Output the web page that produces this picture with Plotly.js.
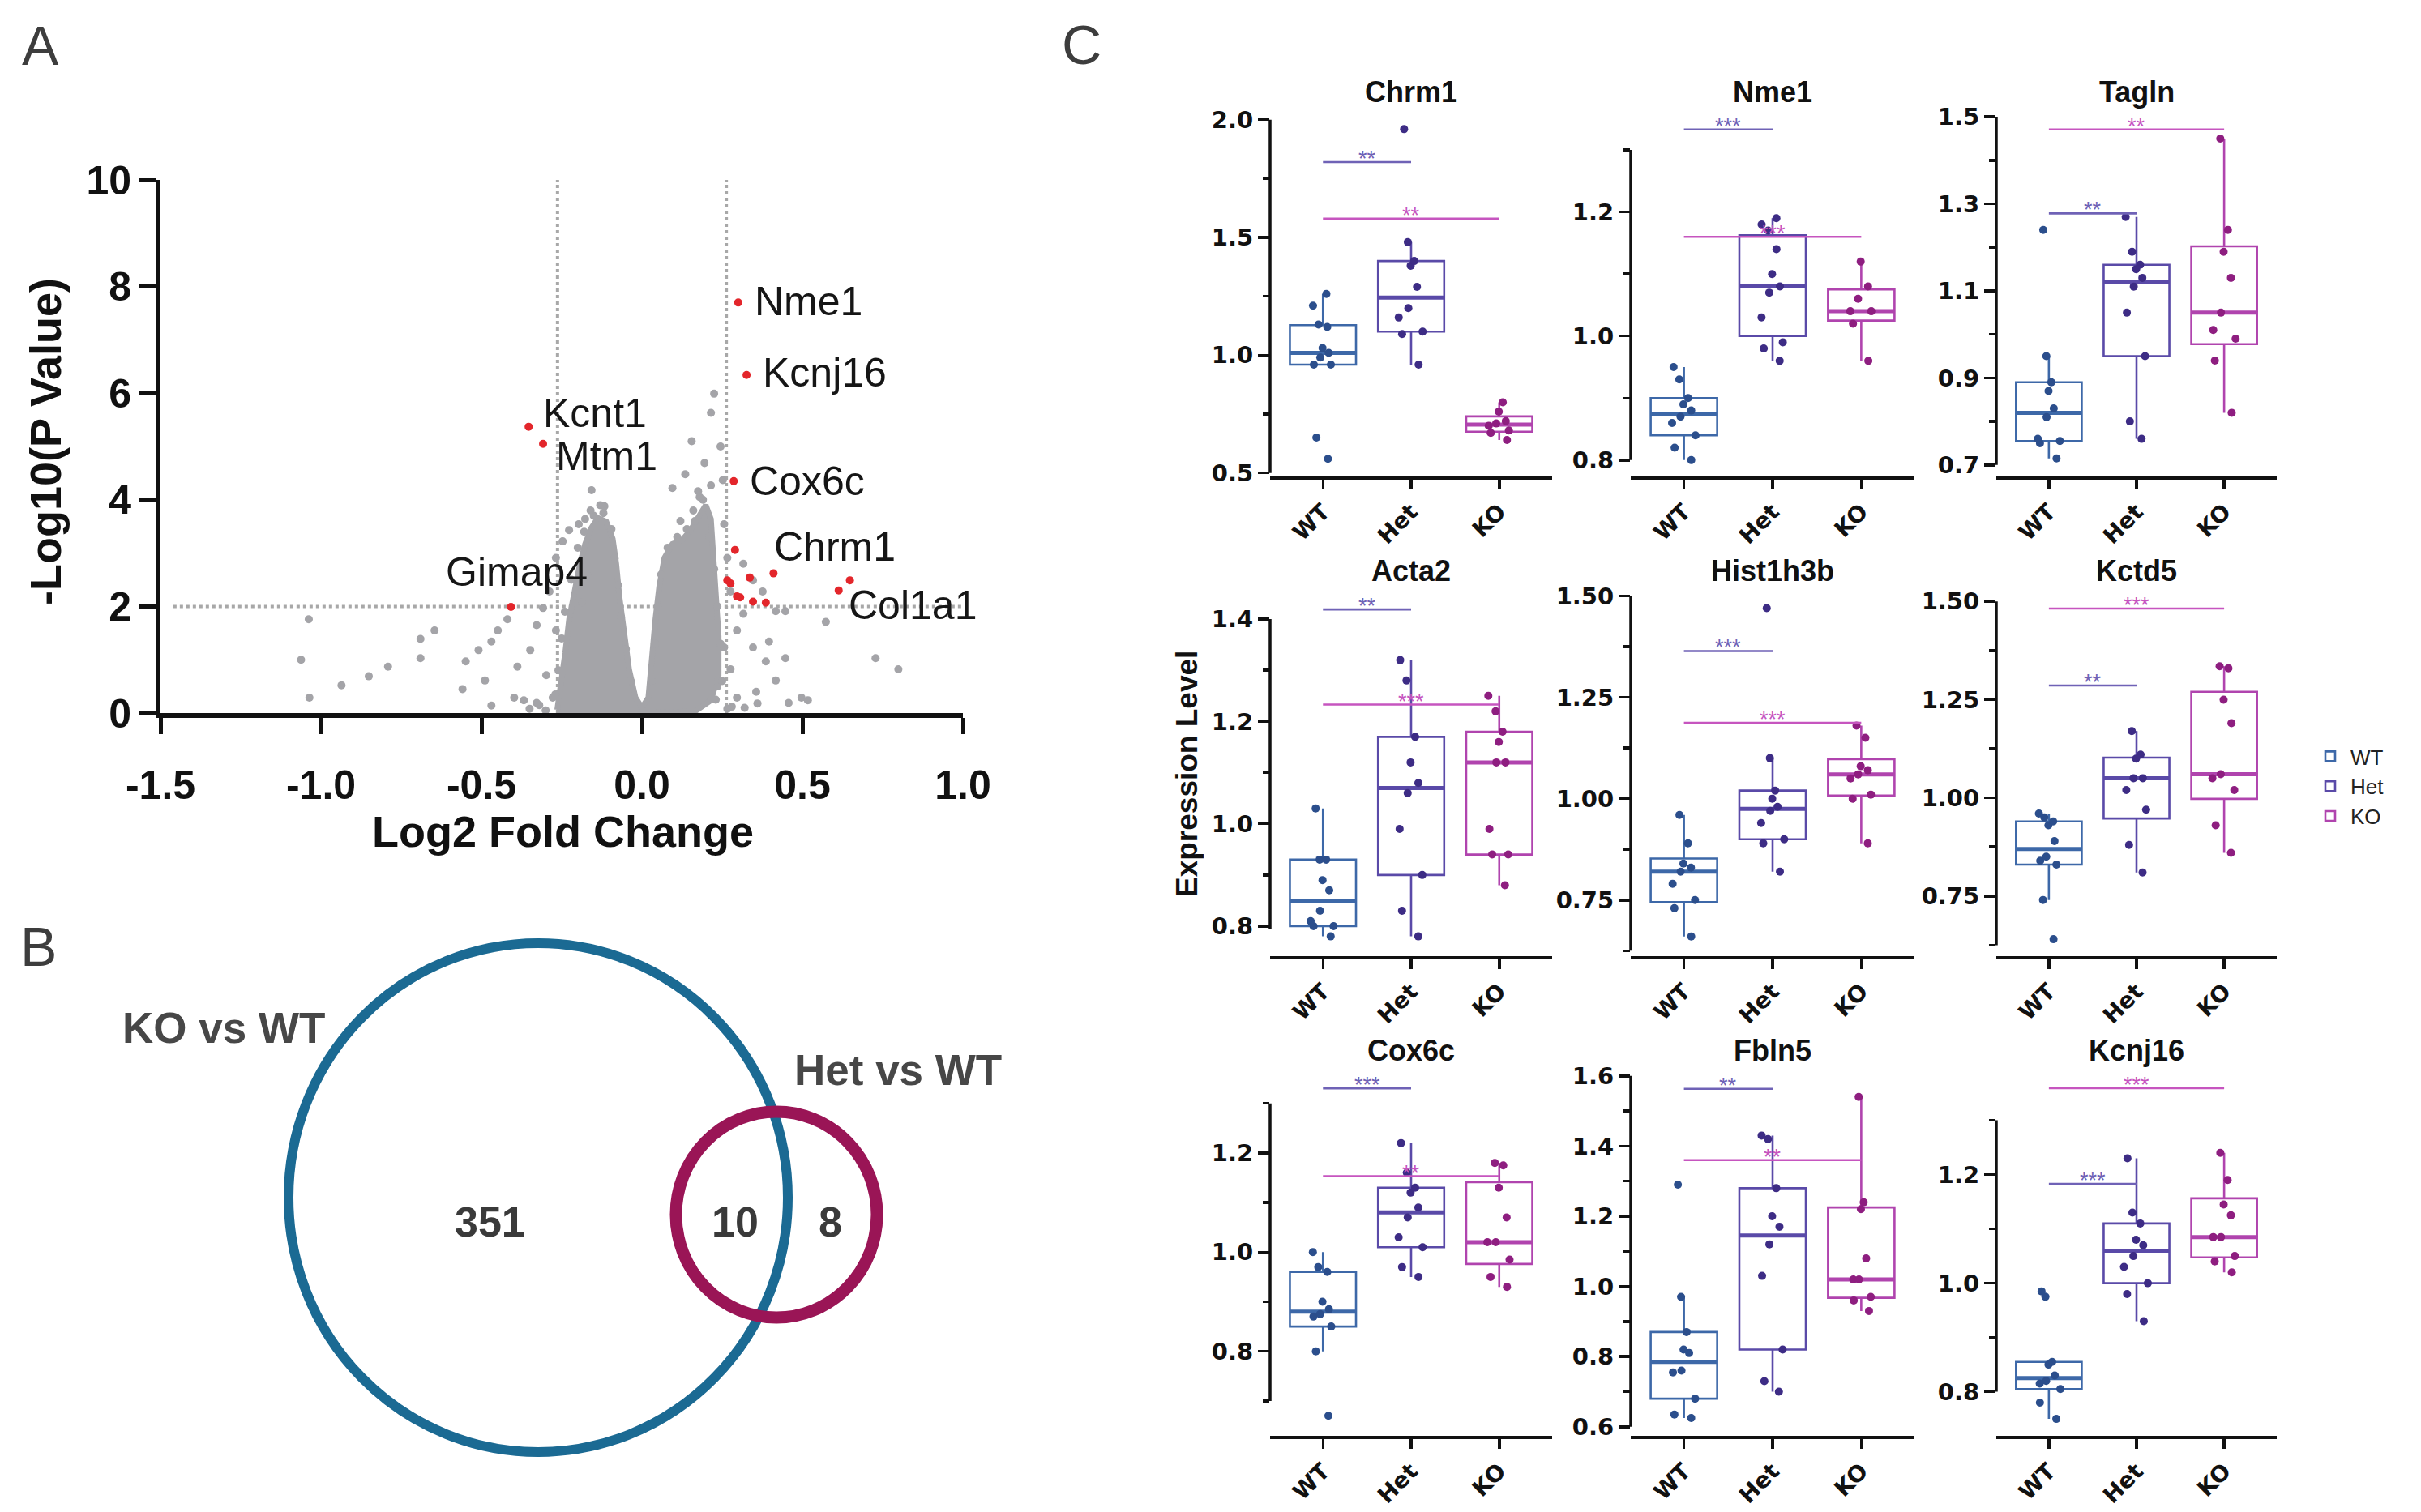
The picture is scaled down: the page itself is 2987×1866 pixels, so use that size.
<!DOCTYPE html>
<html>
<head>
<meta charset="utf-8">
<script src="https://cdn.plot.ly/plotly-3.0.1.min.js"></script>
<style>html,body{margin:0;padding:0;background:#fff;}#chart{width:2987px;height:1866px;}</style>
</head>
<body>
<div id="chart"></div>
<script>
// ---------------- DATA ----------------
// Panel A: volcano plot (log2 fold change vs -log10 p)
// outline of the saturated (densely overplotted) core of the cloud
const coreOutlineX = [-0.264, -0.252, -0.239, -0.227, -0.211, -0.193, -0.177, -0.157, -0.137, -0.111, -0.091, -0.080, -0.070, -0.056, -0.040, -0.020, 0.0,
  0.020, 0.030, 0.042, 0.054, 0.070, 0.095, 0.125, 0.151, 0.175, 0.199, 0.215, 0.223, 0.231, 0.239, 0.239, 0.215, 0.165, 0.0, -0.264];
const coreOutlineY = [0.06, 0.50, 1.13, 1.76, 2.28, 2.80, 3.17, 3.48, 3.66, 3.59, 3.27, 2.80, 2.18, 1.55, 0.82, 0.29, 0.10,
  0.29, 1.03, 1.76, 2.38, 2.91, 3.17, 3.24, 3.43, 3.69, 3.90, 3.64, 3.01, 2.28, 1.44, 0.71, 0.24, 0.03, 0.0, 0.0];
const grayX = [-1.062,-1.036,-1.038,-0.936,-0.851,-0.791,-0.690,-0.690,-0.646,-0.559,-0.549,-0.509,-0.489,-0.469,-0.449,-0.419,-0.398,-0.388,-0.348,-0.328,-0.308,-0.288,-0.298,-0.268,-0.247,-0.227,-0.197,-0.177,-0.157,-0.117,-0.171,-0.187,-0.268,-0.278,-0.328,-0.368,-0.469,
  0.095,0.135,0.155,0.195,0.215,0.225,0.245,0.252,0.215,0.175,0.256,0.266,0.276,0.296,0.316,0.346,0.386,0.396,0.417,0.447,0.457,0.497,0.517,0.417,0.376,0.346,0.316,0.276,0.296,0.356,0.447,0.573,0.728,0.799,0.256,0.235,0.266,
  -0.27,-0.26,-0.25,-0.24,-0.22,-0.20,-0.18,-0.15,-0.12,-0.095,-0.085,-0.075,-0.065,-0.05,-0.035,
  0.03,0.04,0.05,0.06,0.08,0.11,0.14,0.165,0.19,0.21,0.225,0.235,0.245,0.25,0.23,
  -0.35,-0.32,0.32,0.36,-0.30,0.28,0.12,0.16,0.18,-0.13,-0.16];
const grayY = [1.00,0.29,1.76,0.52,0.69,0.87,1.39,1.03,1.55,0.45,0.97,1.18,0.61,1.34,1.55,1.76,0.29,0.87,1.18,1.65,1.97,2.28,0.71,2.91,3.22,3.43,3.54,3.64,4.18,3.88,2.59,2.07,1.55,0.29,0.19,0.24,0.14,
  4.22,4.48,5.10,4.69,5.63,5.99,5.00,4.37,4.27,4.16,3.54,2.91,2.28,1.55,1.86,1.23,0.97,1.34,0.61,1.03,0.19,0.29,0.24,1.91,2.28,2.49,2.80,0.82,0.29,0.40,1.91,1.71,1.03,0.82,1.23,0.50,0.08,
  0.35,0.80,1.40,1.90,2.50,3.10,3.40,3.70,3.75,3.45,2.90,2.40,1.80,1.20,0.60,
  0.60,1.30,2.00,2.60,3.10,3.30,3.45,3.60,4.00,3.30,2.70,2.00,1.30,0.60,0.25,
  0.08,0.15,0.10,0.18,0.05,0.12,3.60,3.80,4.05,3.90,3.80];
const sigX = [0.300, 0.326, -0.353, -0.308, 0.286, 0.290, 0.410, 0.266, 0.276, 0.336, 0.306, 0.346, 0.386, 0.648, 0.613, -0.408, 0.296];
const sigY = [7.70, 6.34, 5.37, 5.05, 4.35, 3.06, 2.62, 2.49, 2.43, 2.54, 2.17, 2.09, 2.07, 2.49, 2.30, 1.99, 2.19];
const geneLabels = ['Nme1','Kcnj16','Kcnt1','Mtm1','Cox6c','Chrm1','Gimap4','Col1a1'];
const fcThreshold = 0.263;
const pThreshold = 2;
const volcanoXTicks = [-1.5, -1.0, -0.5, 0.0, 0.5, 1.0];
const volcanoXTickText = ['-1.5','-1.0','-0.5','0.0','0.5','1.0'];
const volcanoYTicks = [0, 2, 4, 6, 8, 10];

// Panel B: Venn counts
const vennSets = ['KO vs WT', 'Het vs WT'];
const vennCounts = [351, 10, 8]; // KO only, both, Het only

// Panel C: expression levels
const groups = ['WT', 'Het', 'KO'];
const genes = ['Chrm1','Nme1','Tagln','Acta2','Hist1h3b','Kctd5','Cox6c','Fbln5','Kcnj16'];
const Chrm1_WT = [1.26, 1.21, 1.13, 1.12, 1.03, 1.01, 0.99, 0.96, 0.96, 0.65, 0.56];
const Chrm1_Het = [1.96, 1.48, 1.40, 1.38, 1.29, 1.20, 1.16, 1.10, 1.09, 0.96];
const Chrm1_KO = [0.80, 0.76, 0.72, 0.71, 0.70, 0.68, 0.67, 0.64];
const Nme1_WT = [0.95, 0.93, 0.90, 0.89, 0.88, 0.87, 0.86, 0.84, 0.82, 0.80];
const Nme1_Het = [1.19, 1.18, 1.17, 1.14, 1.10, 1.08, 1.07, 1.03, 0.99, 0.98, 0.96];
const Nme1_KO = [1.12, 1.08, 1.06, 1.04, 1.04, 1.02, 0.96];
const Tagln_WT = [1.24, 0.95, 0.89, 0.87, 0.83, 0.81, 0.76, 0.755, 0.75, 0.715];
const Tagln_Het = [1.27, 1.19, 1.16, 1.15, 1.13, 1.11, 1.05, 0.95, 0.80, 0.76];
const Tagln_KO = [1.45, 1.24, 1.19, 1.13, 1.05, 1.01, 0.99, 0.94, 0.82];
const Acta2_WT = [1.03, 0.93, 0.93, 0.89, 0.87, 0.83, 0.81, 0.80, 0.80, 0.78];
const Acta2_Het = [1.32, 1.28, 1.17, 1.12, 1.08, 1.06, 0.99, 0.90, 0.83, 0.78];
const Acta2_KO = [1.25, 1.22, 1.18, 1.16, 1.12, 1.12, 0.99, 0.94, 0.94, 0.88];
const Hist1h3b_WT = [0.96, 0.89, 0.84, 0.83, 0.82, 0.79, 0.75, 0.73, 0.66];
const Hist1h3b_Het = [1.47, 1.10, 1.02, 1.00, 0.98, 0.97, 0.94, 0.90, 0.89, 0.82];
const Hist1h3b_KO = [1.18, 1.15, 1.08, 1.07, 1.06, 1.05, 1.01, 1.00, 0.89];
const Kctd5_WT = [0.96, 0.95, 0.94, 0.93, 0.89, 0.85, 0.84, 0.83, 0.74, 0.64];
const Kctd5_Het = [1.17, 1.11, 1.10, 1.05, 1.05, 1.02, 0.97, 0.88, 0.81];
const Kctd5_KO = [1.335, 1.33, 1.25, 1.19, 1.06, 1.05, 1.02, 0.93, 0.86];
const Cox6c_WT = [1.00, 0.97, 0.96, 0.90, 0.885, 0.875, 0.87, 0.85, 0.80, 0.67];
const Cox6c_Het = [1.22, 1.16, 1.13, 1.12, 1.09, 1.07, 1.03, 1.01, 0.97, 0.95];
const Cox6c_KO = [1.18, 1.175, 1.13, 1.07, 1.02, 1.02, 0.985, 0.95, 0.93];
const Fbln5_WT = [1.29, 0.97, 0.87, 0.82, 0.81, 0.76, 0.755, 0.68, 0.635, 0.625];
const Fbln5_Het = [1.43, 1.42, 1.28, 1.20, 1.17, 1.12, 1.03, 0.82, 0.73, 0.70];
const Fbln5_KO = [1.54, 1.24, 1.22, 1.08, 1.02, 1.02, 0.97, 0.96, 0.93];
const Kcnj16_WT = [0.985, 0.975, 0.855, 0.85, 0.83, 0.82, 0.815, 0.805, 0.78, 0.75];
const Kcnj16_Het = [1.23, 1.13, 1.11, 1.08, 1.07, 1.05, 1.03, 1.00, 0.98, 0.93];
const Kcnj16_KO = [1.24, 1.19, 1.145, 1.125, 1.085, 1.085, 1.05, 1.04, 1.02];
// significance bars (WT vs Het, WT vs KO)
const sigWTHetY = [1.82, 1.333, 1.278, 1.419, 1.364, 1.286, 1.33, 1.563, 1.183];
const sigWTHetLabel = ['**','***','**','**','***','**','***','**','***'];
const sigWTKOY = [1.58, 1.16, 1.471, 1.233, 1.187, 1.482, 1.153, 1.36, 1.359];
const sigWTKOLabel = ['**','***','**','***','***','***','**','**','***'];
// y tick labels per gene
const majorTicks = [[0.5,1.0,1.5,2.0],[0.8,1.0,1.2],[0.7,0.9,1.1,1.3,1.5],[0.8,1.0,1.2,1.4],[0.75,1.00,1.25,1.50],[0.75,1.00,1.25,1.50],[0.8,1.0,1.2],[0.6,0.8,1.0,1.2,1.4,1.6],[0.8,1.0,1.2]];
const majorTickText = [['0.5','1.0','1.5','2.0'],['0.8','1.0','1.2'],['0.7','0.9','1.1','1.3','1.5'],['0.8','1.0','1.2','1.4'],['0.75','1.00','1.25','1.50'],['0.75','1.00','1.25','1.50'],['0.8','1.0','1.2'],['0.6','0.8','1.0','1.2','1.4','1.6'],['0.8','1.0','1.2']];
const minorTicks = [[0.75,1.25,1.75],[0.9,1.1,1.3],[0.8,1.0,1.2,1.4],[0.9,1.1,1.3],[0.625,0.875,1.125,1.375],[0.625,0.875,1.125,1.375],[0.7,0.9,1.1,1.3],[0.7,0.9,1.1,1.3,1.5],[0.9,1.1,1.3]];

// ---------------- LAYOUT CONSTANTS ----------------
const W = 2987, H = 1866;
const fx = p => p / W;
const fy = p => 1 - p / H;
const yRanges = [[0.485,2.061],[0.7737,1.3719],[0.6736,1.5264],[0.7414,1.4619],[0.6117,1.5208],[0.5969,1.5357],[0.6296,1.3681],[0.5741,1.618],[0.7188,1.3934]];
const axisExtent = [[0.5,2.0],[0.8,1.3],[0.7,1.5],[0.795,1.4],[0.625,1.5],[0.625,1.5],[0.7,1.3],[0.6,1.6],[0.8,1.3]];
const colPx = [[1567,1915],[2012,2362],[2463,2809]];
const rowPx = [[130,588],[725,1180],[1320,1772]];
const titlePx = [113, 704, 1296];
const boxLine = ['#3d68a8', '#5a4aa8', '#b044ae'];
const boxMarker = ['#2b4e8c', '#3d2c85', '#8e1e80'];
const sigColor = ['#6f62b6', '#c655bf'];
const FONT = 'Liberation Sans, Arial, sans-serif';
const WIDEFONT = 'DejaVu Sans, Verdana, sans-serif';
const INK = '#111111';
const BOXW = 0.75;

const expr = {
  Chrm1: [Chrm1_WT, Chrm1_Het, Chrm1_KO], Nme1: [Nme1_WT, Nme1_Het, Nme1_KO], Tagln: [Tagln_WT, Tagln_Het, Tagln_KO],
  Acta2: [Acta2_WT, Acta2_Het, Acta2_KO], Hist1h3b: [Hist1h3b_WT, Hist1h3b_Het, Hist1h3b_KO], Kctd5: [Kctd5_WT, Kctd5_Het, Kctd5_KO],
  Cox6c: [Cox6c_WT, Cox6c_Het, Cox6c_KO], Fbln5: [Fbln5_WT, Fbln5_Het, Fbln5_KO], Kcnj16: [Kcnj16_WT, Kcnj16_Het, Kcnj16_KO]
};
function median(a) {
  const s = a.slice().sort((p, q) => p - q), m = Math.floor(s.length / 2);
  return s.length % 2 ? s[m] : (s[m - 1] + s[m]) / 2;
}

const traces = [];
const shapes = [];
const annotations = [];
const layout = {
  width: W, height: H,
  margin: {l: 0, r: 0, t: 0, b: 0},
  paper_bgcolor: '#ffffff', plot_bgcolor: 'rgba(0,0,0,0)',
  showlegend: true,
  hovermode: false,
  font: {family: FONT, color: INK},
  legend: {x: fx(2850), y: fy(910), xanchor: 'left', yanchor: 'top', bgcolor: 'rgba(0,0,0,0)',
           font: {family: FONT, size: 26, color: '#222'}, tracegroupgap: 0, itemwidth: 40}
};

// ---------------- PANEL A ----------------
const gray = '#a4a4a8';
traces.push({type: 'scatter', mode: 'lines', x: [-fcThreshold, -fcThreshold], y: [0, 10], xaxis: 'x', yaxis: 'y',
  line: {color: '#a8a8a8', width: 4, dash: 'dot'}, showlegend: false, hoverinfo: 'skip'});
traces.push({type: 'scatter', mode: 'lines', x: [fcThreshold, fcThreshold], y: [0, 10], xaxis: 'x', yaxis: 'y',
  line: {color: '#a8a8a8', width: 4, dash: 'dot'}, showlegend: false, hoverinfo: 'skip'});
traces.push({type: 'scatter', mode: 'lines', x: [-1.46, 1.0], y: [pThreshold, pThreshold], xaxis: 'x', yaxis: 'y',
  line: {color: '#a8a8a8', width: 4, dash: 'dot'}, showlegend: false, hoverinfo: 'skip'});
traces.push({type: 'scatter', mode: 'lines', x: coreOutlineX, y: coreOutlineY, fill: 'toself', fillcolor: gray,
  line: {color: gray, width: 7}, xaxis: 'x', yaxis: 'y', showlegend: false, hoverinfo: 'skip', cliponaxis: false});
traces.push({type: 'scatter', mode: 'markers', x: grayX, y: grayY, xaxis: 'x', yaxis: 'y',
  marker: {color: gray, size: 10}, showlegend: false, cliponaxis: false});
traces.push({type: 'scatter', mode: 'markers', x: sigX, y: sigY, xaxis: 'x', yaxis: 'y',
  marker: {color: '#e3262b', size: 10}, showlegend: false, cliponaxis: false});

layout.xaxis = {domain: [fx(198), fx(1188)], range: [-1.5, 1.0], anchor: 'y',
  tickmode: 'array', tickvals: volcanoXTicks, ticktext: volcanoXTickText,
  ticks: 'outside', ticklen: 20, tickwidth: 5, tickcolor: INK, showline: true, linewidth: 6, linecolor: INK,
  showgrid: false, zeroline: false, ticklabelstandoff: 20,
  tickfont: {family: FONT, size: 50, color: INK, weight: 'bold'}};
layout.yaxis = {domain: [fy(880), fy(222)], range: [0, 10], anchor: 'x',
  tickmode: 'array', tickvals: volcanoYTicks,
  ticks: 'outside', ticklen: 20, tickwidth: 5, tickcolor: INK, showline: true, linewidth: 6, linecolor: INK,
  showgrid: false, zeroline: false,
  tickfont: {family: FONT, size: 50, color: INK, weight: 'bold'}};

// gene labels (placed beside their points)
const labelX = [0.346, 0.371, -0.313, -0.273, 0.331, 0.406, -0.615, 0.638];
const labelY = [7.72, 6.39, 5.63, 4.82, 4.35, 3.12, 2.64, 2.02];
geneLabels.forEach((g, i) => annotations.push({xref: 'x', yref: 'y', x: labelX[i], y: labelY[i], text: g,
  xanchor: 'left', yanchor: 'middle', showarrow: false, font: {family: FONT, size: 50, color: '#161616'}}));
annotations.push({xref: 'paper', yref: 'paper', x: fx(694), y: fy(1026), text: 'Log2 Fold Change', showarrow: false,
  xanchor: 'center', yanchor: 'middle', font: {family: FONT, size: 54, color: INK, weight: 'bold'}});
annotations.push({xref: 'paper', yref: 'paper', x: fx(56), y: fy(545), text: '-Log10(P Value)', showarrow: false, textangle: -90,
  xanchor: 'center', yanchor: 'middle', font: {family: FONT, size: 54, color: INK, weight: 'bold'}});

// ---------------- PANEL B (Venn) ----------------
const venn = {big: {cx: 664, cy: 1478, rx: 308, ry: 314, color: '#1b6a93', w: 12},
              small: {cx: 958, cy: 1499, rx: 124, ry: 127, color: '#9a1556', w: 15}};
[venn.big, venn.small].forEach(c => shapes.push({type: 'circle', xref: 'paper', yref: 'paper',
  x0: fx(c.cx - c.rx), x1: fx(c.cx + c.rx), y0: fy(c.cy + c.ry), y1: fy(c.cy - c.ry),
  line: {color: c.color, width: c.w}, fillcolor: 'rgba(0,0,0,0)', layer: 'above'}));
const vennTextPx = [[276, 1268], [1108, 1320]];
vennSets.forEach((s, i) => annotations.push({xref: 'paper', yref: 'paper', x: fx(vennTextPx[i][0]), y: fy(vennTextPx[i][1]),
  text: s, showarrow: false, xanchor: 'center', yanchor: 'middle', font: {family: FONT, size: 53, color: '#474747', weight: 'bold'}}));
const vennCountPx = [[604, 1508], [907, 1508], [1024, 1508]];
vennCounts.forEach((n, i) => annotations.push({xref: 'paper', yref: 'paper', x: fx(vennCountPx[i][0]), y: fy(vennCountPx[i][1]),
  text: String(n), showarrow: false, xanchor: 'center', yanchor: 'middle', font: {family: FONT, size: 52, color: '#3a3a3a', weight: 'bold'}}));

// ---------------- PANEL C (box plots) ----------------
genes.forEach((gene, i) => {
  const r = Math.floor(i / 3), c = i % 3, n = i + 2;
  const xa = 'x' + n, ya = 'y' + n;
  expr[gene].forEach((vals, g) => {
    traces.push({type: 'box', x: vals.map(() => groups[g]), y: vals, xaxis: xa, yaxis: ya,
      name: groups[g], legendgroup: groups[g], showlegend: i === 0,
      boxpoints: 'all', jitter: 0.45, pointpos: 0, whiskerwidth: 0, width: BOXW,
      fillcolor: 'rgba(255,255,255,0)', line: {color: boxLine[g], width: 2.6},
      marker: {color: boxMarker[g], size: 10}});
    // thicker median bar, from the same values
    const md = median(vals);
    shapes.push({type: 'line', xref: xa, yref: ya, x0: g - BOXW / 2, x1: g + BOXW / 2, y0: md, y1: md,
      line: {color: boxLine[g], width: 5}, layer: 'below'});
  });
  // significance bars
  [[groups[0], groups[1], sigWTHetY[i], sigWTHetLabel[i], 0.5, sigColor[0]],
   [groups[0], groups[2], sigWTKOY[i], sigWTKOLabel[i], 1.0, sigColor[1]]].forEach(s => {
    traces.push({type: 'scatter', mode: 'lines', x: [s[0], s[1]], y: [s[2], s[2]], xaxis: xa, yaxis: ya,
      line: {color: s[5], width: 2.6}, showlegend: false, hoverinfo: 'skip', cliponaxis: false});
    annotations.push({xref: xa, yref: ya, x: s[4], y: s[2], text: s[3], showarrow: false, xanchor: 'center', yanchor: 'bottom',
      yshift: -13, font: {family: FONT, size: 27, color: s[5]}});
  });
  layout['xaxis' + n] = {domain: [fx(colPx[c][0]), fx(colPx[c][1])], anchor: ya, type: 'category',
    categoryorder: 'array', categoryarray: groups, range: [-0.6, 2.6],
    showline: true, linewidth: 4, linecolor: INK, ticks: 'outside', ticklen: 12, tickwidth: 3.5, tickcolor: INK,
    tickangle: -45, showgrid: false, zeroline: false,
    tickfont: {family: WIDEFONT, size: 28, color: INK, weight: 'bold'}};
  layout['yaxis' + n] = {domain: [fy(rowPx[r][1]), fy(rowPx[r][0])], anchor: xa, range: yRanges[i],
    tickmode: 'array', tickvals: majorTicks[i], ticktext: majorTickText[i],
    ticks: 'outside', ticklen: 14, tickwidth: 3.5, tickcolor: INK,
    minor: {tickmode: 'array', tickvals: minorTicks[i], ticks: 'outside', ticklen: 8, tickwidth: 3.5, tickcolor: INK, showgrid: false},
    showline: false, showgrid: false, zeroline: false,
    tickfont: {family: WIDEFONT, size: 29, color: INK, weight: 'bold'}};
  shapes.push({type: 'line', xref: xa + ' domain', yref: ya, x0: 0, x1: 0, y0: axisExtent[i][0], y1: axisExtent[i][1],
    line: {color: INK, width: 3.5}});
  annotations.push({xref: 'paper', yref: 'paper', x: fx((colPx[c][0] + colPx[c][1]) / 2), y: fy(titlePx[r]), text: gene,
    showarrow: false, xanchor: 'center', yanchor: 'middle', font: {family: FONT, size: 36, color: INK, weight: 'bold'}});
});
annotations.push({xref: 'paper', yref: 'paper', x: fx(1464), y: fy(955), text: 'Expression Level', textangle: -90, showarrow: false,
  xanchor: 'center', yanchor: 'middle', font: {family: FONT, size: 37, color: INK, weight: 'bold'}});

// panel letters
[['A', 50, 56], ['B', 47, 1168], ['C', 1334, 55]].forEach(p => annotations.push({xref: 'paper', yref: 'paper',
  x: fx(p[1]), y: fy(p[2]), text: p[0], showarrow: false, xanchor: 'center', yanchor: 'middle',
  font: {family: FONT, size: 68, color: '#3d3d3d'}}));

layout.shapes = shapes;
layout.annotations = annotations;
Plotly.newPlot('chart', traces, layout, {staticPlot: true, displayModeBar: false});
</script>
</body>
</html>
